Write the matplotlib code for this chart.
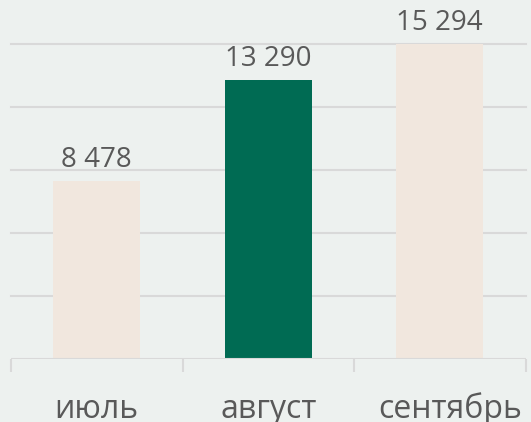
import matplotlib.pyplot as plt
import matplotlib.transforms as mtransforms
import numpy as np

months = ["июль", "август", "сентябрь"]
values = [8478, 13290, 15294]
bar_colors = ["#f1e7de", "#006b53", "#f1e7de"]
y_max = 15000
y_step = 3000

bg = "#edf1ef"
grid_c = "#d9d9d9"
text_c = "#595959"

fig = plt.figure(figsize=(5.31, 4.22), dpi=100, facecolor=bg)
ax = fig.add_axes([11 / 531, 63.3 / 422, 514.5 / 531, 314.7 / 422])
ax.set_facecolor(bg)

x = np.arange(len(months))
ax.bar(x, values, width=0.507, color=bar_colors, zorder=2)
ax.set_xlim(-0.5, len(months) - 0.5)
ax.set_ylim(0, y_max)

# горизонтальная сетка
for gy in np.arange(y_step, y_max + 1, y_step):
    ax.axhline(gy, color=grid_c, lw=1.5, zorder=1, clip_on=False)
ax.axhline(0, color=grid_c, lw=1.5, zorder=3)

for s in ax.spines.values():
    s.set_visible(False)
ax.set_yticks([])

# подписи значений
for xi, v in zip(x, values):
    ax.annotate(f"{v:,}".replace(",", " "), (xi, min(v, y_max)),
                xytext=(0, 5), textcoords="offset points",
                ha="center", va="bottom", fontsize=20, color=text_c,
                family="Open Sans", annotation_clip=False)

# деления между категориями
ax.set_xticks(np.arange(-0.5, len(months) - 0.4, 1.0))
ax.set_xticklabels([])
ax.tick_params(axis="x", length=9, width=1.5, color=grid_c)
shifts = [0, 0, 10]   # последняя подпись сдвинута вправо, как в оригинале
for xi, m, sh in zip(x, months, shifts):
    tr = ax.get_xaxis_transform() + mtransforms.ScaledTranslation(sh / 100, 0, fig.dpi_scale_trans)
    ax.text(xi, -0.187, m, transform=tr,
            ha="center", va="baseline", fontsize=23, color=text_c,
            family="Open Sans")

fig.savefig("out.png", dpi=100, facecolor=bg)
